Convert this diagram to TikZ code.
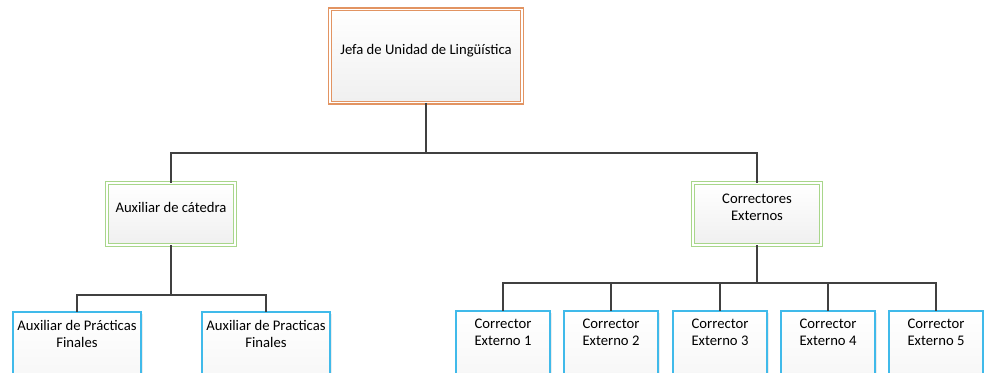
\documentclass[tikz,border=0pt]{standalone}
\usepackage{fontspec}
\setmainfont{Carlito}
\usetikzlibrary{shadows}
\definecolor{jefeorange}{RGB}{226,148,98}
\definecolor{mandogreen}{RGB}{168,214,138}
\definecolor{baseblue}{RGB}{64,186,234}
\definecolor{linegray}{RGB}{64,64,64}
\begin{document}
\begin{tikzpicture}[x=0.75pt, y=-0.75pt,
        box/.style = {top color=white, bottom color=gray!12,
                      align=center, font=\fontsize{11}{12.75}\selectfont,
                      drop shadow={opacity=0.15, shadow xshift=1.2pt,
                                   shadow yshift=-1.2pt}},
    doublebox/.style = {box, text depth=10pt,
                        postaction={draw=#1, line width=1pt, double=white,
                                    double distance=0.8pt}},
      jefebox/.style = {doublebox=jefeorange,
                        minimum width=144pt, minimum height=70pt},
     mandobox/.style = {doublebox=mandogreen,
                        minimum width=96pt, minimum height=46.5pt},
      basebox/.style = {box, anchor=north, inner ysep=6pt, text depth=60pt,
                        postaction={draw=baseblue, line width=1.3pt}},
         link/.style = {draw=linegray, line width=1.3pt}]
\useasboundingbox (0,0) rectangle (984,372);
\clip (0,0) rectangle (984,372);
%
\node [jefebox]  (jefe)    at (426,56)  {Jefa de Unidad de Lingüística};
\node [mandobox] (auxcat)  at (171,214) {Auxiliar de cátedra};
\node [mandobox] (correct) at (757,214) {Correctores\\Externos};
%
\node [basebox, minimum width=95pt] (auxpf1) at (77,312)
      {Auxiliar de Prácticas\\Finales};
\node [basebox, minimum width=95pt] (auxpf2) at (266,312)
      {Auxiliar de Practicas\\Finales};
\foreach \i/\x in {1/503, 2/611, 3/720, 4/828, 5/936}
    \node [basebox, minimum width=70.5pt] (ce\i) at (\x,311)
          {Corrector\\Externo \i};
%%
\draw [link] (jefe.south) -- (jefe.south |- 0,153) -| (auxcat.north);
\draw [link] (jefe.south |- 0,153) -| (correct.north);
\draw [link] (auxcat.south) -- (auxcat.south |- 0,295) -| (auxpf1.north);
\draw [link] (auxcat.south |- 0,295) -| (auxpf2.north);
\foreach \i in {1,...,5}
    \draw [link] (correct.south) |- (ce\i.north |- 0,283) -- (ce\i.north);
\end{tikzpicture}
\end{document}
